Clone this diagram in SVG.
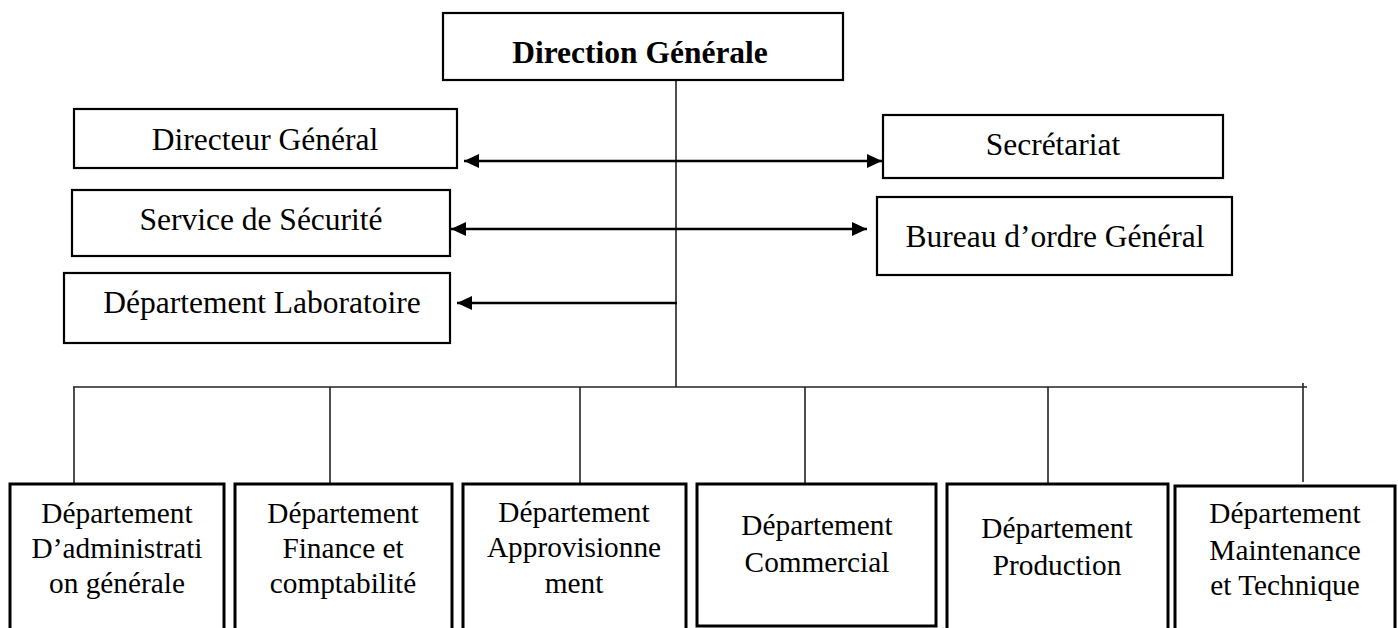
<svg xmlns="http://www.w3.org/2000/svg" width="1398" height="628" viewBox="0 0 1398 628">
  <style>
    .box { fill: #fff; stroke: #000; stroke-width: 2.2; }
    .dept { fill: #fff; stroke: #000; stroke-width: 3; }
    .lbl { font-family: "Liberation Serif", "Times New Roman", serif; font-size: 31.5px; fill: #000; text-anchor: middle; }
    .dl { font-family: "Liberation Serif", "Times New Roman", serif; font-size: 29.3px; fill: #000; text-anchor: middle; }
    .title { font-weight: bold; }
    .tree { stroke: #222; stroke-width: 1.6; fill: none; }
    .arr { stroke: #000; stroke-width: 2.4; fill: none; }
  </style>
  <defs>
    <marker id="head" viewBox="0 0 15 14" refX="15" refY="7" markerWidth="15" markerHeight="14" markerUnits="userSpaceOnUse" orient="auto-start-reverse">
      <path d="M0,0 L15,7 L0,14 Z" fill="#000"/>
    </marker>
  </defs>
  <rect width="1398" height="628" fill="#fff"/>

  <!-- connectors -->
  <g id="connectors">
    <line class="tree" x1="676" y1="80" x2="676" y2="387"/>
    <line class="tree" x1="73" y1="387" x2="1307" y2="387"/>
    <line class="tree" x1="74" y1="387" x2="74" y2="484"/>
    <line class="tree" x1="330" y1="387" x2="330" y2="484"/>
    <line class="tree" x1="580" y1="387" x2="580" y2="484"/>
    <line class="tree" x1="805" y1="387" x2="805" y2="484"/>
    <line class="tree" x1="1048" y1="387" x2="1048" y2="484"/>
    <line class="tree" x1="1303" y1="383" x2="1303" y2="482"/>
    <line class="arr" x1="464" y1="161" x2="882" y2="161" marker-start="url(#head)" marker-end="url(#head)"/>
    <line class="arr" x1="451" y1="229" x2="867" y2="229" marker-start="url(#head)" marker-end="url(#head)"/>
    <line class="arr" x1="677" y1="303" x2="457" y2="303" marker-end="url(#head)"/>
  </g>

  <!-- top -->
  <g id="direction-generale">
    <rect class="box" x="443" y="13" width="400" height="67"/>
    <text class="lbl title" x="640" y="63">Direction Générale</text>
  </g>

  <!-- staff boxes -->
  <g id="directeur-general">
    <rect class="box" x="74" y="109" width="383" height="59"/>
    <text class="lbl" x="265" y="150">Directeur Général</text>
  </g>
  <g id="service-securite">
    <rect class="box" x="72" y="190" width="378" height="66"/>
    <text class="lbl" x="261" y="230">Service de Sécurité</text>
  </g>
  <g id="departement-laboratoire">
    <rect class="box" x="64" y="273" width="386" height="70"/>
    <text class="lbl" x="262" y="313">Département Laboratoire</text>
  </g>
  <g id="secretariat">
    <rect class="box" x="883" y="115" width="340" height="63"/>
    <text class="lbl" x="1053" y="155">Secrétariat</text>
  </g>
  <g id="bureau-ordre">
    <rect class="box" x="877" y="197" width="355" height="78"/>
    <text class="lbl" x="1055" y="247">Bureau d’ordre Général</text>
  </g>

  <!-- departments -->
  <g id="dept-administration">
    <rect class="dept" x="10" y="484" width="214" height="160"/>
    <text class="dl" x="117" y="523">Département</text>
    <text class="dl" x="117" y="558">D’administrati</text>
    <text class="dl" x="117" y="593">on générale</text>
  </g>
  <g id="dept-finance">
    <rect class="dept" x="235" y="484" width="217" height="160"/>
    <text class="dl" x="343" y="523">Département</text>
    <text class="dl" x="343" y="558">Finance et</text>
    <text class="dl" x="343" y="593">comptabilité</text>
  </g>
  <g id="dept-approvisionnement">
    <rect class="dept" x="463" y="484" width="223" height="160"/>
    <text class="dl" x="574" y="522">Département</text>
    <text class="dl" x="574" y="557">Approvisionne</text>
    <text class="dl" x="574" y="593">ment</text>
  </g>
  <g id="dept-commercial">
    <rect class="dept" x="697" y="484" width="239" height="142"/>
    <text class="dl" x="817" y="535">Département</text>
    <text class="dl" x="817" y="572">Commercial</text>
  </g>
  <g id="dept-production">
    <rect class="dept" x="947" y="484" width="221" height="160"/>
    <text class="dl" x="1057" y="538">Département</text>
    <text class="dl" x="1057" y="575">Production</text>
  </g>
  <g id="dept-maintenance">
    <rect class="dept" x="1175" y="486" width="220" height="160"/>
    <text class="dl" x="1285" y="523">Département</text>
    <text class="dl" x="1285" y="560">Maintenance</text>
    <text class="dl" x="1285" y="595">et Technique</text>
  </g>
</svg>
